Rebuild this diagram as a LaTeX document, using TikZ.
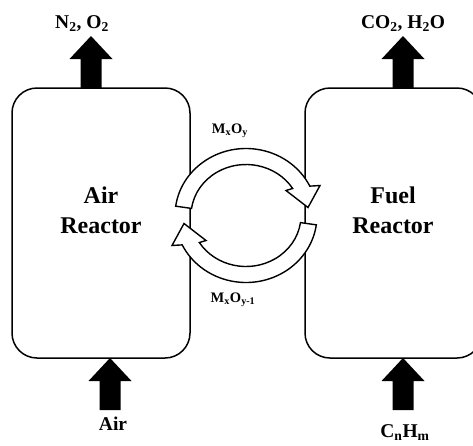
\documentclass[tikz,border=0pt]{standalone}
\usepackage{fontspec}
\setmainfont{Liberation Serif}
\begin{document}
\begin{tikzpicture}[x=1pt,y=-1pt,
  reactor/.style={draw, line width=1.5pt, rounded corners=25pt, minimum height=270pt, inner sep=0pt},
  boxtxt/.style={font=\fontsize{24}{30}\selectfont\bfseries, align=center, inner sep=0pt},
  lbl/.style={font=\fontsize{19.5}{22}\selectfont\bfseries, inner sep=0pt, anchor=base},
  mlbl/.style={font=\fontsize{14.5}{17}\selectfont\bfseries, inner sep=0pt, anchor=base},
  upflow/.pic={\fill[black] (-10.5pt,0pt) -- (-10.5pt,29pt) -- (-21.5pt,29pt) -- (0pt,52pt) -- (21.5pt,29pt) -- (10.5pt,29pt) -- (10.5pt,0pt) -- cycle;},
  cyclearrow/.pic={\filldraw[fill=white, draw=black, line width=1.4pt, line join=miter]
     (172:71pt and 67pt) arc[start angle=172, end angle=26, x radius=71pt, y radius=67pt]
     -- (74pt,30pt) -- (62pt,8pt) -- (40pt,25pt)
     -- (32:55pt and 51pt) arc[start angle=32, end angle=172, x radius=55pt, y radius=51pt]
     -- cycle;}
]
\useasboundingbox (0,0) rectangle (473,445);
\clip (0,0) rectangle (473,445);

% reactors
\node[reactor, minimum width=178pt] (air) at (101,223) {};
\node[reactor, minimum width=177pt] (fuel) at (393.5,223) {};

\node[boxtxt] (airtxt) at (101,210) {Air\\Reactor};
\node[boxtxt] (fueltxt) at (393,210) {Fuel\\Reactor};

% flows
\coordinate (outA) at (91,88);
\coordinate (outF) at (403,88);
\coordinate (inA) at (110,410);
\coordinate (inF) at (403,410);
\pic at (outA) {upflow};
\pic at (outF) {upflow};
\pic at (inA) {upflow};
\pic at (inF) {upflow};

\node[lbl] (n2o2) at (82,28) {N\textsubscript{2}, O\textsubscript{2}};
\node[lbl] (co2) at (403,28) {CO\textsubscript{2}, H\textsubscript{2}O};
\node[lbl] (airin) at (113,430) {Air};
\node[lbl] (fuelin) at (405,437) {C\textsubscript{n}H\textsubscript{m}};

% oxygen carrier loop
\coordinate (loop) at (246,215.5);
\pic at (loop) {cyclearrow};
\pic[rotate=180] at (loop) {cyclearrow};

\node[mlbl] (ox) at (230,133) {M\textsubscript{x}O\textsubscript{y}};
\node[mlbl] (red) at (233,302) {M\textsubscript{x}O\textsubscript{y-1}};
\end{tikzpicture}
\end{document}
